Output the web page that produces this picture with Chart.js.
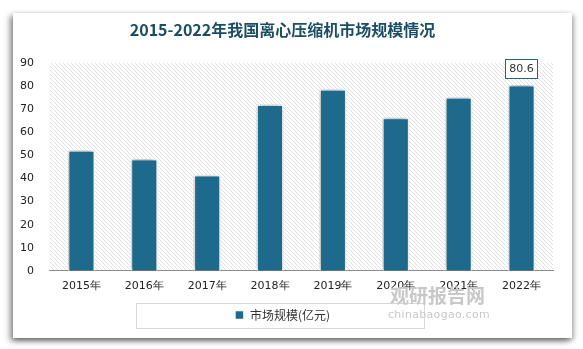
<!DOCTYPE html>
<html>
<head>
<meta charset="utf-8">
<script src="https://cdn.jsdelivr.net/npm/chart.js@4.4.1/dist/chart.umd.min.js"></script>
<style>
  html, body { margin: 0; padding: 0; background: #fff; }
  #wrap { position: relative; width: 583px; height: 349px; }
  #card { position: absolute; left: 13px; top: 13px; width: 559px; height: 325px; background: #fff;
          box-shadow: -3px 3px 6px rgba(0,0,0,0.45), 2px 2px 5px rgba(0,0,0,0.3); }
  canvas { position: absolute; left: 0; top: 0; }
  .wm { position: absolute; color: #c8c8c8; font-family: "Noto Sans CJK SC", sans-serif; white-space: nowrap; }
</style>
</head>
<body>
<div id="wrap">
  <div id="card"></div>
  <canvas id="c" width="583" height="349"></canvas>
  <div class="wm" style="left:390px; top:281px; font-size:19px; font-weight:bold;">观研报告网</div>
  <div class="wm" style="left:388px; top:308px; font-size:11px; font-family:'DejaVu Sans'; letter-spacing:0.3px;">chinabaogao.com</div>
</div>
<script>
// data
const years = ['2015年', '2016年', '2017年', '2018年', '2019年', '2020年', '2021年', '2022年'];
const marketSize = [52.3, 48.5, 41.5, 72.1, 78.7, 66.4, 75.2, 80.6];
const yTicks = [0, 10, 20, 30, 40, 50, 60, 70, 80, 90];
const seriesName = '市场规模(亿元)';
const titleText = '2015-2022年我国离心压缩机市场规模情况';

const barColor = '#1d6a8c';

// diagonal hatch for the plot area
function makeHatch() {
  const p = document.createElement('canvas');
  p.width = 4; p.height = 4;
  const g = p.getContext('2d');
  g.fillStyle = '#fff';
  g.fillRect(0, 0, 4, 4);
  g.strokeStyle = '#e0e0e0';
  g.lineWidth = 1;
  g.beginPath();
  g.moveTo(-1, -1); g.lineTo(5, 5);
  g.moveTo(-1, 3); g.lineTo(1, 5);
  g.moveTo(3, -1); g.lineTo(5, 1);
  g.stroke();
  return g.createPattern(p, 'repeat');
}

const hatchPlugin = {
  id: 'hatch',
  beforeDraw(chart) {
    const { ctx, chartArea: a } = chart;
    ctx.save();
    ctx.fillStyle = makeHatch();
    ctx.fillRect(a.left, a.top, a.right - a.left, a.bottom - a.top);
    ctx.restore();
  }
};

const shadowPlugin = {
  id: 'barShadow',
  beforeDatasetsDraw(chart) {
    const ctx = chart.ctx;
    ctx.save();
    ctx.shadowColor = 'rgba(0,0,0,0.35)';
    ctx.shadowBlur = 5;
    ctx.shadowOffsetX = -1;
    ctx.shadowOffsetY = -1;
  },
  afterDatasetsDraw(chart) {
    chart.ctx.restore();
  }
};

const labelPlugin = {
  id: 'lastLabel',
  afterDatasetsDraw(chart) {
    const ctx = chart.ctx;
    const meta = chart.getDatasetMeta(0);
    const i = marketSize.length - 1;
    const bar = meta.data[i];
    const txt = String(marketSize[i]);
    ctx.save();
    ctx.font = '11px Tahoma, "DejaVu Sans", sans-serif';
    const w = ctx.measureText(txt).width + 8;
    const h = 19;
    const x = bar.x - w / 2;
    const y = bar.y - h - 7;
    ctx.fillStyle = '#fff';
    ctx.fillRect(x, y, w, h);
    ctx.strokeStyle = '#2a6478';
    ctx.lineWidth = 1;
    ctx.strokeRect(Math.round(x) + 0.5, Math.round(y) + 0.5, Math.round(w), h);
    ctx.fillStyle = '#333';
    ctx.textAlign = 'center';
    ctx.textBaseline = 'middle';
    ctx.fillText(txt, bar.x, y + h / 2 + 1);
    ctx.restore();
  }
};

const legendBoxPlugin = {
  id: 'legendBox',
  afterDraw(chart) {
    const ctx = chart.ctx;
    ctx.save();
    ctx.strokeStyle = '#d9d9d9';
    ctx.lineWidth = 1;
    ctx.strokeRect(136.5, 303.5, 288, 25);
    ctx.restore();
  }
};

new Chart(document.getElementById('c'), {
  type: 'bar',
  data: {
    labels: years,
    datasets: [{
      label: seriesName,
      data: marketSize,
      backgroundColor: barColor,
      borderColor: '#ffffff',
      borderWidth: 1.5,
      barPercentage: 0.5,
      categoryPercentage: 0.86
    }]
  },
  options: {
    responsive: false,
    animation: false,
    devicePixelRatio: 1,
    layout: { padding: { left: 12, right: 30, top: 0, bottom: 18 } },
    plugins: {
      title: {
        display: true,
        text: titleText,
        color: '#1b4d64',
        font: { family: '"Noto Sans CJK SC"', size: 16, weight: 'bold' },
        padding: { top: 20, bottom: 24 }
      },
      legend: {
        position: 'bottom',
        labels: {
          boxWidth: 9,
          boxHeight: 9,
          color: '#333',
          padding: 12,
          font: { family: '"Noto Sans CJK SC"', size: 12 }
        }
      },
      tooltip: { enabled: false }
    },
    scales: {
      x: {
        grid: { display: false, drawTicks: true, tickLength: 5, offset: true },
        border: { color: '#8c8c8c', width: 1 },
        ticks: { color: '#222', padding: 4, font: { family: 'Tahoma, "DejaVu Sans", sans-serif', size: 11 } }
      },
      y: {
        min: 0,
        max: 90,
        afterBuildTicks(axis) { axis.ticks = yTicks.map(v => ({ value: v })); },
        grid: { display: false },
        border: { display: false },
        ticks: { color: '#222', padding: 8, font: { family: 'Tahoma, "DejaVu Sans", sans-serif', size: 11 } }
      }
    }
  },
  plugins: [hatchPlugin, shadowPlugin, labelPlugin, legendBoxPlugin]
});
</script>
</body>
</html>
